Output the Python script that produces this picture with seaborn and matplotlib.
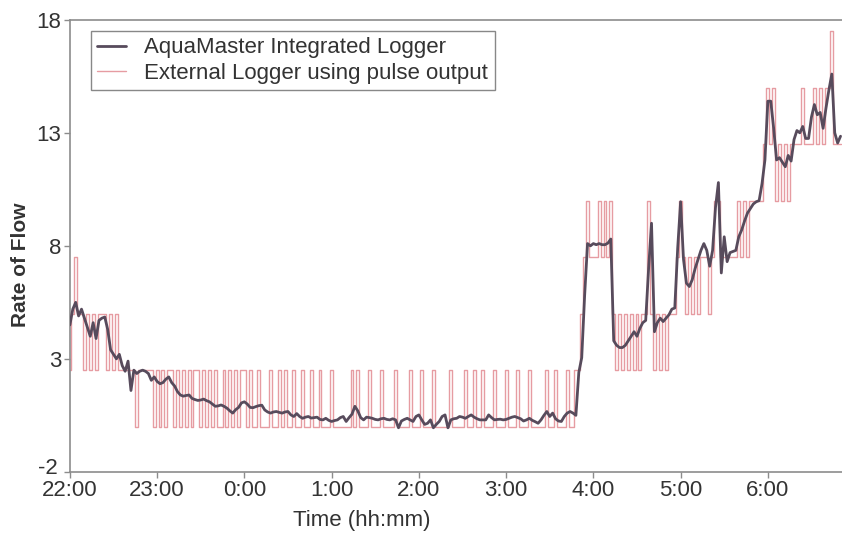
import numpy as np
import pandas as pd
import matplotlib
matplotlib.use("Agg")
import matplotlib.pyplot as plt
import matplotlib.transforms as mtransforms
import seaborn as sns

# Samples every 2 minutes starting at 22:00
sample_minutes = list(range(0, 532, 2))

# AquaMaster integrated logger flow, one row per hour
aquamaster_22 = [4.5, 5.2, 5.5, 4.9, 5.2, 4.8, 4.4, 4.0, 4.6, 3.9, 4.7, 4.8, 4.85, 4.3, 3.4,
                 3.2, 3.0, 3.2, 2.7, 2.45, 2.9, 1.6, 2.5, 2.35, 2.45, 2.5, 2.45, 2.35, 2.05, 2.2]
aquamaster_23 = [2.0, 1.9, 1.95, 2.1, 2.2, 1.95, 1.8, 1.55, 1.4, 1.35, 1.38, 1.4, 1.25, 1.2, 1.16,
                 1.18, 1.22, 1.15, 1.1, 1.0, 0.9, 0.92, 0.96, 0.9, 0.82, 0.7, 0.6, 0.75, 0.85, 1.05]
aquamaster_00 = [1.1, 1.0, 0.85, 0.84, 0.89, 0.93, 0.95, 0.74, 0.65, 0.6, 0.65, 0.67, 0.63, 0.6, 0.65,
                 0.67, 0.52, 0.45, 0.58, 0.45, 0.37, 0.42, 0.45, 0.38, 0.4, 0.42, 0.32, 0.3, 0.37, 0.28]
aquamaster_01 = [0.23, 0.27, 0.3, 0.4, 0.45, 0.23, 0.4, 0.55, 0.9, 0.7, 0.4, 0.3, 0.42, 0.4, 0.37,
                 0.32, 0.3, 0.35, 0.37, 0.32, 0.3, 0.35, 0.3, -0.05, 0.25, 0.32, 0.37, 0.3, 0.23, 0.45]
aquamaster_02 = [0.52, 0.3, 0.1, 0.15, 0.3, -0.05, 0.1, 0.23, 0.45, 0.52, -0.05, 0.3, 0.35, 0.37, 0.45,
                 0.42, 0.37, 0.45, 0.52, 0.42, 0.35, 0.3, 0.3, 0.3, 0.52, 0.4, 0.3, 0.32, 0.33, 0.3]
aquamaster_03 = [0.32, 0.37, 0.42, 0.45, 0.4, 0.35, 0.25, 0.3, 0.37, 0.28, 0.22, 0.15, 0.3, 0.5, 0.67,
                 0.45, 0.6, 0.35, 0.25, 0.23, 0.45, 0.6, 0.67, 0.6, 0.5, 2.4, 3.05, 5.8, 8.1, 8.0]
aquamaster_04 = [8.1, 8.05, 8.1, 8.05, 8.05, 8.12, 8.3, 3.8, 3.6, 3.5, 3.5, 3.6, 3.8, 4.0, 4.2,
                 4.0, 4.35, 4.6, 4.7, 7.0, 9.0, 4.2, 4.6, 4.8, 4.65, 4.8, 4.95, 5.2, 5.25, 7.9]
aquamaster_05 = [9.95, 7.4, 6.35, 6.2, 6.5, 7.0, 7.4, 7.8, 8.1, 7.8, 7.1, 7.8, 9.7, 10.8, 6.8,
                 8.4, 7.3, 7.7, 7.75, 7.8, 8.4, 8.7, 9.1, 9.45, 9.65, 9.85, 9.95, 10.0, 10.75, 11.8]
aquamaster_06 = [14.4, 14.4, 13.2, 11.8, 11.9, 11.7, 11.5, 12.0, 11.75, 12.7, 13.1, 13.0, 13.28,
                 12.75, 12.75, 13.7, 14.25, 13.8, 13.9, 13.2, 14.1, 14.9, 15.6, 13.0, 12.55, 12.85]

# External logger: pulses counted per sample (each pulse = 2.5 flow units)
pulses_22 = [1, 2, 3, 2, 2, 1, 2, 1, 2, 1, 2, 2, 2, 1, 2, 1, 2, 1, 1, 1, 1, 1, 1, 0, 1, 1, 1, 1, 1, 0]
pulses_23 = [1, 0, 1, 0, 1, 1, 0, 1, 0, 1, 0, 1, 0, 1, 1, 0, 1, 0, 1, 0, 1, 0, 0, 1, 0, 1, 0, 1, 0, 1]
pulses_00 = [1, 0, 1, 0, 0, 1, 0, 0, 0, 1, 0, 0, 1, 0, 1, 0, 0, 1, 0, 0, 1, 0, 0, 1, 0, 0, 1, 0, 0, 0]
pulses_01 = [1, 0, 0, 0, 0, 0, 0, 1, 0, 1, 0, 0, 0, 1, 0, 0, 0, 1, 0, 0, 0, 0, 1, 0, 0, 0, 0, 1, 0, 0]
pulses_02 = [0, 1, 0, 0, 0, 1, 0, 0, 0, 0, 0, 1, 0, 0, 0, 0, 1, 0, 0, 1, 0, 0, 1, 0, 0, 0, 1, 0, 0, 0]
pulses_03 = [1, 0, 0, 0, 1, 0, 0, 0, 1, 0, 0, 0, 0, 0, 1, 0, 0, 1, 0, 0, 0, 1, 0, 0, 1, 1, 2, 3, 4, 3]
pulses_04 = [3, 3, 4, 3, 4, 3, 4, 2, 1, 2, 1, 2, 1, 2, 1, 2, 1, 2, 2, 4, 2, 1, 2, 1, 2, 1, 2, 2, 2, 3]
pulses_05 = [4, 3, 2, 3, 2, 3, 2, 3, 3, 3, 2, 3, 4, 4, 3, 3, 3, 3, 3, 3, 4, 3, 4, 3, 4, 4, 4, 4, 4, 5]
pulses_06 = [6, 5, 6, 4, 5, 4, 5, 4, 5, 5, 5, 5, 6, 5, 5, 5, 6, 5, 6, 5, 6, 6, 7, 5, 5, 5]
pulse_size = 2.5

tick_minutes = [0, 60, 120, 180, 240, 300, 360, 420, 480]
tick_labels = ["22:00", "23:00", "0:00", "1:00", "2:00", "3:00", "4:00", "5:00", "6:00"]
y_ticks = [-2, 3, 8, 13, 18]

aquamaster = (aquamaster_22 + aquamaster_23 + aquamaster_00 + aquamaster_01 + aquamaster_02
              + aquamaster_03 + aquamaster_04 + aquamaster_05 + aquamaster_06)
pulses = (pulses_22 + pulses_23 + pulses_00 + pulses_01 + pulses_02
          + pulses_03 + pulses_04 + pulses_05 + pulses_06)
external = [p * pulse_size for p in pulses]

df = pd.DataFrame({"minutes": sample_minutes, "aquamaster": aquamaster, "external": external})

sns.set_style("white")
plt.rcParams["font.family"] = ["Liberation Sans", "DejaVu Sans"]

fig = plt.figure(figsize=(8.42, 5.35), dpi=100)
ax = fig.add_axes([0.083, 0.118, 0.917, 0.845])

# AquaMaster line sits on top of the pulse trace
sns.lineplot(data=df, x="minutes", y="aquamaster", ax=ax, color="#574b5c", linewidth=2.0,
             label="AquaMaster Integrated Logger", estimator=None, zorder=3)
# pulse counts are step-like, so draw them as steps
sns.lineplot(data=df, x="minutes", y="external", ax=ax, color="#e0848b", linewidth=1.0,
             alpha=0.8, label="External Logger using pulse output", estimator=None,
             drawstyle="steps-mid", zorder=2)

ax.set_xlim(0, 531)
ax.set_ylim(-2, 18)
ax.set_yticks(y_ticks)
ax.set_yticklabels([str(v) for v in y_ticks])
ax.set_xticks(tick_minutes)
ax.set_xticklabels(tick_labels)
ax.tick_params(axis="both", direction="out", length=4, width=1, color="#8c8c8c",
               labelsize=16, labelcolor="#333333", pad=2)
ax.tick_params(axis="both", which="both", bottom=True, left=True)

# nudge the "-2" label up-left a little so it clears "22:00"
shift = mtransforms.ScaledTranslation(-3 / 72, 4 / 72, fig.dpi_scale_trans)
bottom_label = ax.get_yticklabels()[0]
bottom_label.set_transform(bottom_label.get_transform() + shift)

for side in ["left", "bottom", "top"]:
    ax.spines[side].set_color("#8c8c8c")
    ax.spines[side].set_linewidth(1.2)
ax.spines["right"].set_visible(False)

ax.set_xlabel("Time (hh:mm)", fontsize=16, color="#333333")
ax.set_ylabel("Rate of Flow", fontsize=15, fontweight="bold", color="#333333")
ax.xaxis.set_label_coords(0.378, -0.085)
ax.yaxis.set_label_coords(-0.052, 0.459)

leg = ax.legend(loc="upper left", bbox_to_anchor=(0.027, 0.976), borderaxespad=0,
                fontsize=16, frameon=True, fancybox=False, framealpha=1,
                edgecolor="#888888", handlelength=1.3, handletextpad=0.8,
                borderpad=0.3, labelspacing=0.2)
leg.get_frame().set_linewidth(1.0)
leg.set_zorder(5)
for txt in leg.get_texts():
    txt.set_color("#333333")

fig.savefig("out.png", dpi=100)
